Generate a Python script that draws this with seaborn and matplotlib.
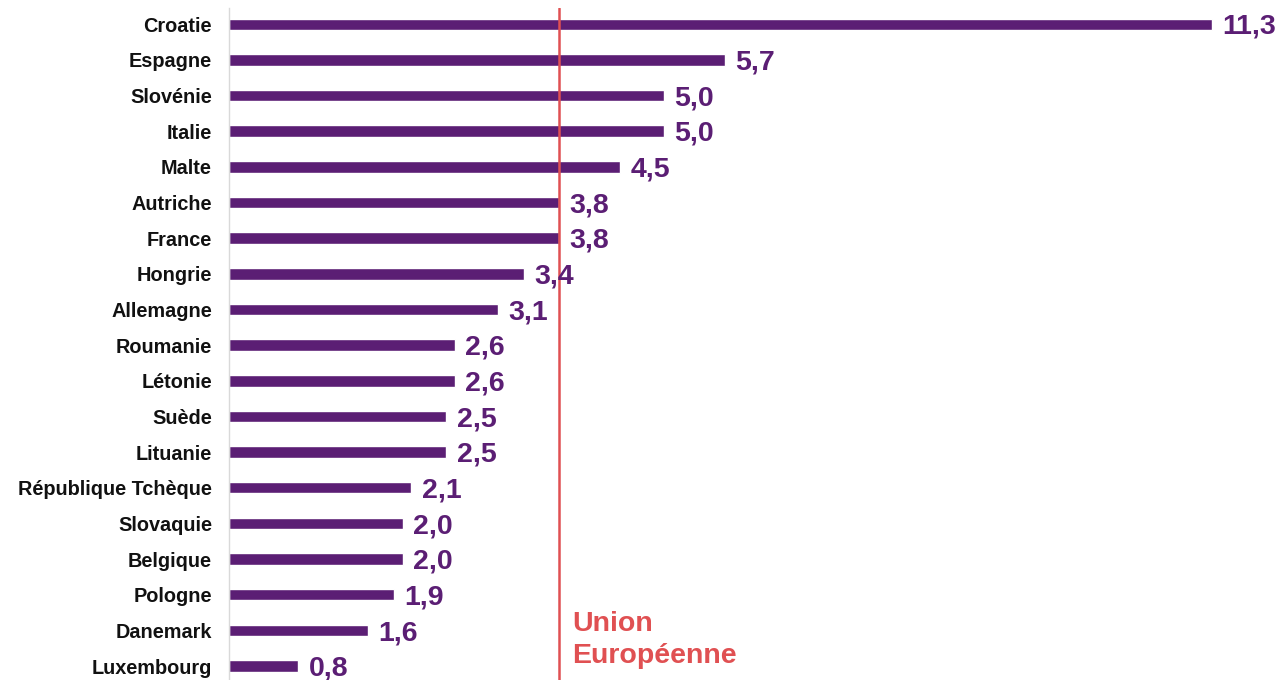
import matplotlib
matplotlib.use("Agg")
import matplotlib.pyplot as plt
import seaborn as sns
import pandas as pd

sns.set_style("white")
plt.rcParams['font.family'] = ['Liberation Sans', 'DejaVu Sans']

pays = ["Croatie", "Espagne", "Slovénie", "Italie", "Malte", "Autriche", "France",
        "Hongrie", "Allemagne", "Roumanie", "Létonie", "Suède", "Lituanie",
        "République Tchèque", "Slovaquie", "Belgique", "Pologne", "Danemark", "Luxembourg"]
valeurs = [11.3, 5.7, 5.0, 5.0, 4.5, 3.8, 3.8, 3.4, 3.1, 2.6, 2.6, 2.5, 2.5,
           2.1, 2.0, 2.0, 1.9, 1.6, 0.8]
ue = 3.8

df = pd.DataFrame({"pays": pays, "valeur": valeurs})
violet = "#5B1E74"
rouge = "#E05052"

fig = plt.figure(figsize=(12.77, 6.8), dpi=100)
ax = fig.add_axes([0.179, 0.0, 0.821, 0.988])
sns.barplot(data=df, x="valeur", y="pays", color=violet, width=0.32,
            saturation=1, ax=ax)

for i, v in enumerate(valeurs):
    ax.annotate(f"{v:.1f}".replace(".", ","), (v, i), xytext=(7.5, -2),
                textcoords="offset points", va="center", ha="left",
                fontsize=20.5, fontweight="bold", color=violet)

ax.axvline(ue, color=rouge, lw=1.8)
ax.text(ue + 0.15, 17.28, "Union\nEuropéenne", color=rouge, fontsize=20.5,
        fontweight="bold", va="center", ha="left", linespacing=1.3)

ax.set_xlim(0, 12.05)
ax.set_ylim(18.39, -0.45)
ax.set_xlabel("")
ax.set_ylabel("")
ax.set_xticks([])
ax.tick_params(axis="y", length=0, pad=12, labelsize=14.3)
for lab in ax.get_yticklabels():
    lab.set_fontweight("bold")
    lab.set_color("#111111")
for s in ["top", "right", "bottom"]:
    ax.spines[s].set_visible(False)
ax.spines["left"].set_color("#D9D9D9")
ax.spines["left"].set_linewidth(1)

fig.savefig("out.png", dpi=100)
